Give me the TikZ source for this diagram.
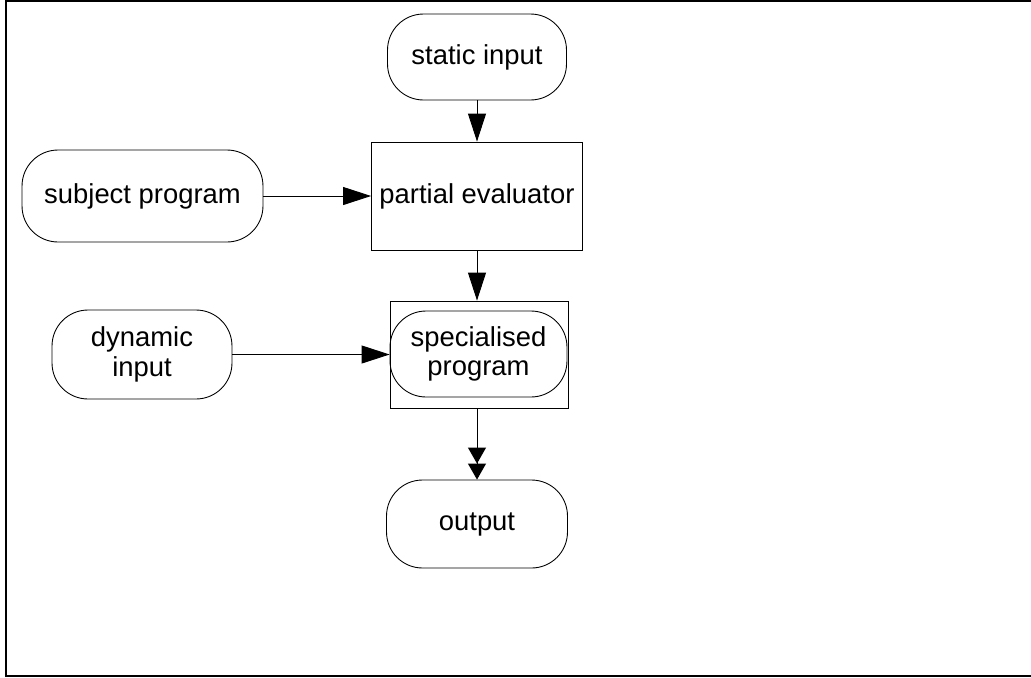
\documentclass[tikz,border=0pt]{standalone}
\usepackage{fontspec}
\setmainfont{Liberation Sans}
\usetikzlibrary{arrows.meta}

\begin{document}
\begin{tikzpicture}[x=0.02cm, y=-0.02cm, line width=0.5pt,
    term/.style = {draw, rectangle, rounded corners=0.72cm, align=center, inner sep=0pt,
                   font=\fontsize{15.6}{16.8}\selectfont},
    proc/.style = {draw, rectangle, align=center, inner sep=0pt,
                   font=\fontsize{15.6}{16.8}\selectfont},
    >={Triangle[length=0.56cm, width=0.36cm]},
    twohead/.style = {-{Triangle[length=0.32cm, width=0.36cm] Triangle[length=0.32cm, width=0.36cm]}}]

    \useasboundingbox (0,0) rectangle (1031,677);
    \draw[line width=0.04cm] (1031,1) -- (6,1) -- (6,675.5) -- (1031,675.5);

    \node[term, minimum width=3.58cm, minimum height=1.72cm] (static) at (477,57) {static input};
    \node[proc, minimum width=4.22cm, minimum height=2.16cm] (partial) at (477,196) {partial evaluator};
    \node[term, minimum width=4.82cm, minimum height=1.84cm] (subject) at (142.5,196) {subject program};
    \node[proc, minimum width=3.56cm, minimum height=2.14cm] (specbox) at (479,354.5) {};
    \node[term, minimum width=3.54cm, minimum height=1.72cm] (spec) at (478.5,354) {specialised\\program};
    \node[term, minimum width=3.6cm, minimum height=1.78cm] (dynamic) at (142,354.5) {dynamic\\input};
    \node[term, minimum width=3.62cm, minimum height=1.76cm] (output) at (477,524) {output};

    \draw[->] (static) -- (partial);
    \draw[->] (subject) -- (partial);
    \draw[->] (partial.south) -- (partial.south |- specbox.north);
    \draw[->] (dynamic) -- (specbox);
    \draw[twohead] (output.north |- specbox.south) -- (output.north);
\end{tikzpicture}
\end{document}
